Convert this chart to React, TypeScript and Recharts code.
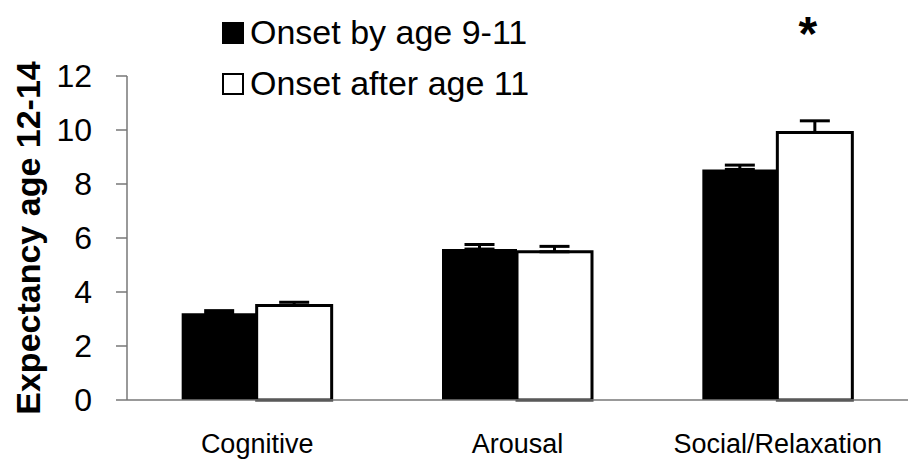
import React from "react";
import { BarChart, Bar, XAxis, YAxis, ErrorBar, LabelList, Label } from "recharts";

// values
const categories = ["Cognitive", "Arousal", "Social/Relaxation"];
const earlyOnset = [3.21, 5.59, 8.54];
const earlyErr = [0.1, 0.17, 0.16];
const lateOnset = [3.5, 5.49, 9.91];
const lateErr = [0.12, 0.2, 0.43];
const significance = ["", "", "*"];
const yTicks = [0, 2, 4, 6, 8, 10, 12];

const FONT = "'Liberation Sans', Arial, sans-serif";

const data = categories.map((name, i) => ({
    name,
    early: earlyOnset[i],
    earlyErr: [0, earlyErr[i]],
    late: lateOnset[i],
    lateErr: [0, lateErr[i]],
    sig: significance[i],
}));

const legendItems = [
    { label: "Onset by age 9-11", fill: "#000" },
    { label: "Onset after age 11", fill: "#fff" },
];

// legend drawn as html on top of the chart so it doesn't eat plot space
const LegendBox = () => (
    <div
        style={{
            position: "absolute",
            left: 222,
            top: 7,
            fontFamily: FONT,
            fontSize: 34,
            lineHeight: "51px",
            color: "#000",
        }}
    >
        {legendItems.map((item) => (
            <div key={item.label} style={{ display: "flex", alignItems: "center", whiteSpace: "nowrap" }}>
                <span
                    style={{
                        display: "inline-block",
                        width: 22,
                        height: 22,
                        boxSizing: "border-box",
                        background: item.fill,
                        border: "2px solid #000",
                        marginRight: 6,
                    }}
                />
                {item.label}
            </div>
        ))}
    </div>
);

const YLabel = (props: any) => {
    const { viewBox } = props;
    const cy = viewBox.y + viewBox.height / 2;
    const x = 40;
    return (
        <text
            x={x}
            y={cy}
            transform={`rotate(-90, ${x}, ${cy})`}
            textAnchor="middle"
            fontFamily={FONT}
            fontWeight="bold"
            fontSize={34}
            fill="#000"
        >
            Expectancy age 12-14
        </text>
    );
};

const App = () => {
    return (
        <div style={{ position: "absolute", left: 0, top: 0, width: 910, height: 466, background: "#fff" }}>
            <BarChart
                width={910}
                height={466}
                data={data}
                margin={{ top: 76, right: 2, bottom: 0, left: 0 }}
                barCategoryGap="21%"
                barGap={0}
            >
                <XAxis
                    dataKey="name"
                    tickLine={false}
                    axisLine={{ stroke: "#777", strokeWidth: 1.5 }}
                    tickMargin={28}
                    height={66}
                    interval={0}
                    tick={{ fontFamily: FONT, fontSize: 27, fill: "#000" }}
                />
                <YAxis
                    domain={[0, 12]}
                    ticks={yTicks}
                    interval={0}
                    width={127}
                    tickSize={11}
                    tickMargin={24}
                    axisLine={{ stroke: "#777", strokeWidth: 1.5 }}
                    tickLine={{ stroke: "#777", strokeWidth: 1.5 }}
                    tick={{ fontFamily: FONT, fontSize: 32, fill: "#000" }}
                >
                    <Label content={<YLabel />} />
                </YAxis>
                <Bar dataKey="early" fill="#000" isAnimationActive={false}>
                    <ErrorBar dataKey="earlyErr" width={15} strokeWidth={3} stroke="#000" direction="y" />
                </Bar>
                <Bar dataKey="late" fill="#fff" stroke="#000" strokeWidth={3} isAnimationActive={false}>
                    <ErrorBar dataKey="lateErr" width={15} strokeWidth={3} stroke="#000" direction="y" />
                    <LabelList
                        dataKey="sig"
                        position="top"
                        offset={82}
                        dx={-7}
                        fontFamily={FONT}
                        fontWeight="bold"
                        fontSize={48}
                        fill="#000"
                        stroke="none"
                    />
                </Bar>
            </BarChart>
            <LegendBox />
        </div>
    );
};

export default App;
